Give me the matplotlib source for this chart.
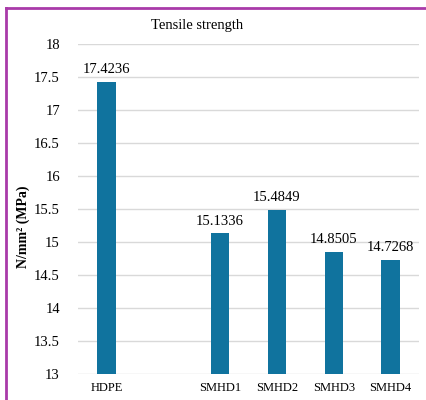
import numpy as np
import matplotlib.pyplot as plt
from matplotlib.lines import Line2D

# tensile strength data
categories = ['HDPE', '', 'SMHD1', 'SMHD2', 'SMHD3', 'SMHD4']
values = [17.4236, np.nan, 15.1336, 15.4849, 14.8505, 14.7268]
value_labels = ['17.4236', '', '15.1336', '15.4849', '14.8505', '14.7268']
yticks = [13, 13.5, 14, 14.5, 15, 15.5, 16, 16.5, 17, 17.5, 18]

plt.rcParams['font.family'] = ['Liberation Serif', 'DejaVu Serif']

fig = plt.figure(figsize=(4.26, 4.0), dpi=100)
ax = fig.add_axes([78/426, 1-374/400, (419-78)/426, (374-44)/400])

x = np.arange(len(categories))
bars = ax.bar(x, values, width=0.32, color='#10739e', zorder=3)
for xi, v, lab in zip(x, values, value_labels):
    if lab:
        ax.annotate(lab, (xi, v), xytext=(0, 4), textcoords='offset points',
                    ha='center', va='bottom', fontsize=10.5)

ax.set_xlim(-0.5, len(categories) - 0.5)
ax.set_ylim(13, 18)
ax.set_yticks(yticks)
ax.set_yticklabels(['%g' % t for t in yticks], fontsize=10.5)
ax.set_xticks(x)
ax.set_xticklabels(categories, fontsize=9)
ax.tick_params(length=0, pad=13)
ax.tick_params(axis='x', pad=6)
ax.yaxis.grid(True, color='#d9d9d9', linewidth=1, zorder=0)
for s in ax.spines.values():
    s.set_visible(False)

fig.text(23/426, 1-227/400, 'N/mm² (MPa)', rotation=90, ha='center', va='center',
         fontsize=10, fontweight='bold')
fig.text(197/426, 1-26/400, 'Tensile strength', ha='center', va='center', fontsize=10.5)

# purple frame
fig.add_artist(Line2D([6/426, 1], [1-8/400, 1-8/400], color='#a93aa9', linewidth=2))
fig.add_artist(Line2D([6/426, 6/426], [0, 1-8/400], color='#a93aa9', linewidth=2))

fig.savefig('out.png', dpi=100)
